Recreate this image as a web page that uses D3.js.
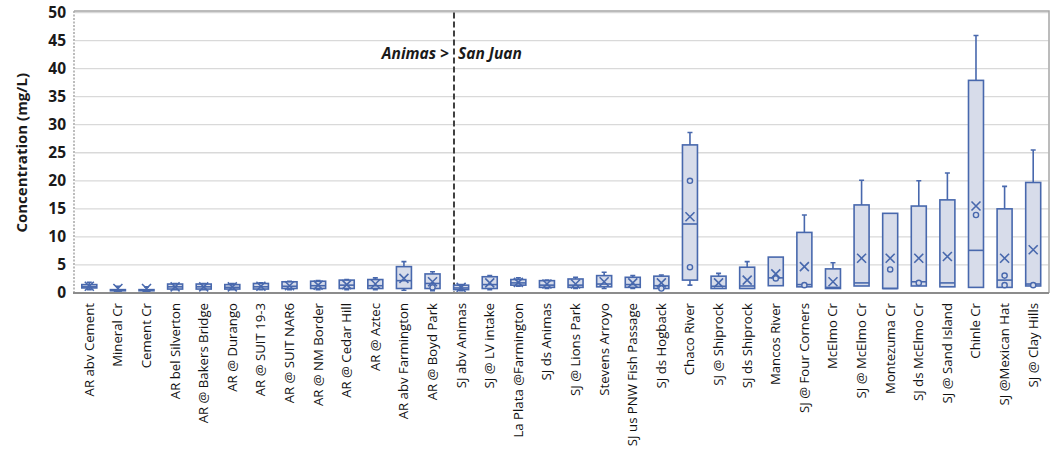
<!DOCTYPE html>
<html>
<head>
<meta charset="utf-8">
<script src="https://cdn.jsdelivr.net/npm/d3@7"></script>
<style>
  html, body { margin: 0; padding: 0; background: #fff; }
  svg { display: block; }
</style>
</head>
<body>
<svg id="chart" width="1060" height="456"></svg>
<script>
// Sampling sites along the Animas and San Juan rivers
const categories = [
  "AR abv Cement", "Mineral Cr", "Cement Cr", "AR bel Silverton", "AR @ Bakers Bridge",
  "AR @ Durango", "AR @ SUIT 19-3", "AR @ SUIT NAR6", "AR @ NM Border", "AR @ Cedar Hill",
  "AR @ Aztec", "AR abv Farmington", "AR @ Boyd Park", "SJ abv Animas", "SJ @ LV intake",
  "La Plata @Farmington", "SJ ds Animas", "SJ @ Lions Park", "Stevens Arroyo",
  "SJ us PNW Fish Passage", "SJ ds Hogback", "Chaco River", "SJ @ Shiprock", "SJ ds Shiprock",
  "Mancos River", "SJ @ Four Corners", "McElmo Cr", "SJ @ McElmo Cr", "Montezuma Cr",
  "SJ ds McElmo Cr", "SJ @ Sand Island", "Chinle Cr", "SJ @Mexican Hat", "SJ @ Clay Hills"
];

// Box-plot statistics, concentration in mg/L
const whiskerLow  = [0.6, 0.3, 0.3, 0.6, 0.6, 0.6, 0.6, 0.6, 0.6, 0.6, 0.6, 0.5, 0.4, 0.4, 0.6, 1.2, 0.8, 0.8, 0.8, 0.8, 0.6, 1.4, 0.8, 0.8, 1.3, 1.1, 0.8, 1.25, 0.8, 1.25, 1.1, 1.0, 1.0, 1.25];
const quartile1   = [0.9, 0.4, 0.4, 0.7, 0.7, 0.7, 0.7, 0.8, 0.8, 0.8, 0.8, 0.8, 0.8, 0.6, 0.8, 1.4, 1.0, 1.0, 1.1, 1.0, 0.8, 2.3, 0.8, 0.8, 1.3, 1.1, 0.8, 1.25, 0.8, 1.25, 1.1, 1.0, 1.0, 1.25];
const medians     = [1.1, 0.5, 0.5, 1.1, 1.1, 1.0, 1.1, 1.2, 1.3, 1.4, 1.3, 2.2, 1.7, 0.9, 1.5, 1.8, 1.4, 1.4, 1.6, 1.5, 1.3, 12.3, 1.2, 1.25, 2.7, 1.5, 1.0, 1.8, 0.8, 2.0, 1.8, 7.6, 2.3, 1.6];
const quartile3   = [1.5, 0.6, 0.6, 1.6, 1.6, 1.5, 1.7, 2.0, 2.1, 2.3, 2.4, 4.7, 3.4, 1.4, 2.9, 2.4, 2.2, 2.5, 3.1, 2.8, 3.0, 26.4, 3.0, 4.6, 6.4, 10.8, 4.3, 15.7, 14.2, 15.5, 16.6, 37.9, 15.0, 19.7];
const whiskerHigh = [1.9, 1.2, 1.1, 1.7, 1.7, 1.7, 1.8, 2.1, 2.2, 2.4, 2.7, 5.6, 3.8, 1.5, 3.1, 2.7, 2.3, 2.8, 3.7, 3.1, 3.2, 28.6, 3.5, 5.6, 6.4, 13.9, 5.4, 20.1, 14.2, 20.0, 21.4, 45.9, 19.0, 25.5];
const means       = [1.2, 0.8, 0.8, 1.1, 1.1, 1.1, 1.2, 1.3, 1.4, 1.5, 1.6, 2.6, 2.0, 1.0, 1.8, 1.9, 1.6, 1.6, 2.0, 1.8, 1.8, 13.6, 1.8, 2.3, 3.4, 4.7, 2.0, 6.2, 6.2, 6.2, 6.5, 15.5, 6.2, 7.7];
// Individual points drawn as open circles
const innerPoints = [[], [], [], [], [], [], [], [], [], [], [], [], [1.0], [], [], [], [], [], [], [], [0.8],
  [20.0, 4.6], [], [], [2.6], [1.4], [], [], [4.2], [1.8], [], [13.9], [3.1, 1.4], [1.4]];

const yTicks = [0, 5, 10, 15, 20, 25, 30, 35, 40, 45, 50];
const yTitle = "Concentration (mg/L)";
const dividerSite = "SJ abv Animas";
const dividerLeft = "Animas >";
const dividerRight = "San Juan";

const rows = categories.map((c, i) => ({
  name: c, lo: whiskerLow[i], q1: quartile1[i], med: medians[i], q3: quartile3[i],
  hi: whiskerHigh[i], mean: means[i], pts: innerPoints[i]
}));

const svg = d3.select("#chart");
const plotLeft = 75, plotRight = 1047.5, plotTop = 12.5, plotBottom = 293;
const stroke = "#4868ad", fill = "#d7dcea";
const font = "'Open Sans', 'Noto Sans', sans-serif";

const x = d3.scaleBand(categories, [plotLeft, plotRight]);
const y = d3.scaleLinear([0, 50], [plotBottom, plotTop]);
const cx = d => x(d.name) + x.bandwidth() / 2;

// gridlines
svg.append("g").selectAll("line").data(yTicks.filter(t => t > 0)).join("line")
  .attr("x1", plotLeft).attr("x2", plotRight + 1)
  .attr("y1", d => y(d)).attr("y2", d => y(d))
  .attr("stroke", "#d9d9d9").attr("stroke-width", 1.3);

// frame: top and right
svg.append("path")
  .attr("d", `M${plotLeft - 1},${y(50) - 1.5}H${plotRight + 1.5}V${plotBottom}`)
  .attr("fill", "none").attr("stroke", "#a6a6a6").attr("stroke-width", 1.5);

// left axis (dotted)
svg.append("line")
  .attr("x1", plotLeft - 1).attr("x2", plotLeft - 1).attr("y1", y(50) - 1.5).attr("y2", plotBottom)
  .attr("stroke", "#a6a6a6").attr("stroke-width", 1.5).attr("stroke-dasharray", "2,1.5");

// y axis labels
const yAxis = d3.axisLeft(y).tickValues(yTicks).tickSize(0).tickPadding(8);
const gy = svg.append("g").attr("transform", `translate(${plotLeft - 1},0)`).call(yAxis);
gy.select(".domain").remove();
gy.selectAll("text").attr("font-family", font).attr("font-size", 15.5)
  .attr("font-weight", "bold").attr("fill", "#1a1a1a");

svg.append("text")
  .attr("transform", `translate(27,${(y(50) + plotBottom) / 2}) rotate(-90)`)
  .attr("text-anchor", "middle").attr("font-family", font).attr("font-size", 15)
  .attr("font-weight", "bold").attr("fill", "#1a1a1a").text(yTitle);

// x axis labels (rotated)
const xAxis = d3.axisBottom(x).tickSize(0).tickPadding(0);
const gx = svg.append("g").attr("transform", `translate(0,${plotBottom})`).call(xAxis);
gx.select(".domain").remove();
gx.selectAll("text")
  .attr("font-family", font).attr("font-size", 13.2).attr("fill", "#111")
  .attr("text-anchor", "end").attr("dy", null)
  .attr("transform", "translate(4.5,10) rotate(-90)");

// divider between the Animas and San Juan reaches
const dx = x(dividerSite) + x.step() * 0.25;
svg.append("line")
  .attr("x1", dx).attr("x2", dx).attr("y1", y(50)).attr("y2", plotBottom)
  .attr("stroke", "#404040").attr("stroke-width", 2).attr("stroke-dasharray", "6,3");
svg.append("text").attr("x", dx - 5).attr("y", 59).attr("text-anchor", "end")
  .attr("font-family", font).attr("font-size", 15.5).attr("font-weight", "bold")
  .attr("font-style", "italic").attr("fill", "#1a1a1a").text(dividerLeft);
svg.append("text").attr("x", dx + 4).attr("y", 59).attr("text-anchor", "start")
  .attr("font-family", font).attr("font-size", 15.5).attr("font-weight", "bold")
  .attr("font-style", "italic").attr("fill", "#1a1a1a").text(dividerRight);

// box plots
const bw = 15, cap = 2.5, xs = 4.5;
const g = svg.append("g").selectAll("g").data(rows).join("g");

// whiskers
g.filter(d => d.hi > d.q3).append("path")
  .attr("d", d => `M${cx(d)},${y(d.q3)}V${y(d.hi)}M${cx(d) - cap},${y(d.hi)}H${cx(d) + cap}`)
  .attr("stroke", stroke).attr("stroke-width", 1.6).attr("fill", "none");
g.filter(d => d.lo < d.q1).append("path")
  .attr("d", d => `M${cx(d)},${y(d.q1)}V${y(d.lo)}M${cx(d) - cap},${y(d.lo)}H${cx(d) + cap}`)
  .attr("stroke", stroke).attr("stroke-width", 1.6).attr("fill", "none");

// box
g.append("rect")
  .attr("x", d => cx(d) - bw / 2).attr("width", bw)
  .attr("y", d => y(d.q3)).attr("height", d => Math.max(1, y(d.q1) - y(d.q3)))
  .attr("fill", fill).attr("stroke", stroke).attr("stroke-width", 1.6);

// median
g.append("line")
  .attr("x1", d => cx(d) - bw / 2).attr("x2", d => cx(d) + bw / 2)
  .attr("y1", d => y(d.med)).attr("y2", d => y(d.med))
  .attr("stroke", stroke).attr("stroke-width", 1.6);

// mean marker
g.append("path")
  .attr("d", d => {
    const a = cx(d), b = y(d.mean);
    return `M${a - xs},${b - xs}L${a + xs},${b + xs}M${a - xs},${b + xs}L${a + xs},${b - xs}`;
  })
  .attr("stroke", stroke).attr("stroke-width", 1.6).attr("fill", "none");

// points
g.selectAll("circle").data(d => d.pts.map(v => ({ d, v }))).join("circle")
  .attr("cx", p => cx(p.d)).attr("cy", p => y(p.v)).attr("r", 2.6)
  .attr("fill", fill).attr("stroke", stroke).attr("stroke-width", 1.4);

// bottom axis line
svg.append("line")
  .attr("x1", plotLeft - 2).attr("x2", plotRight + 1.5).attr("y1", plotBottom).attr("y2", plotBottom)
  .attr("stroke", "#8c8c8c").attr("stroke-width", 2.2);
</script>
</body>
</html>
